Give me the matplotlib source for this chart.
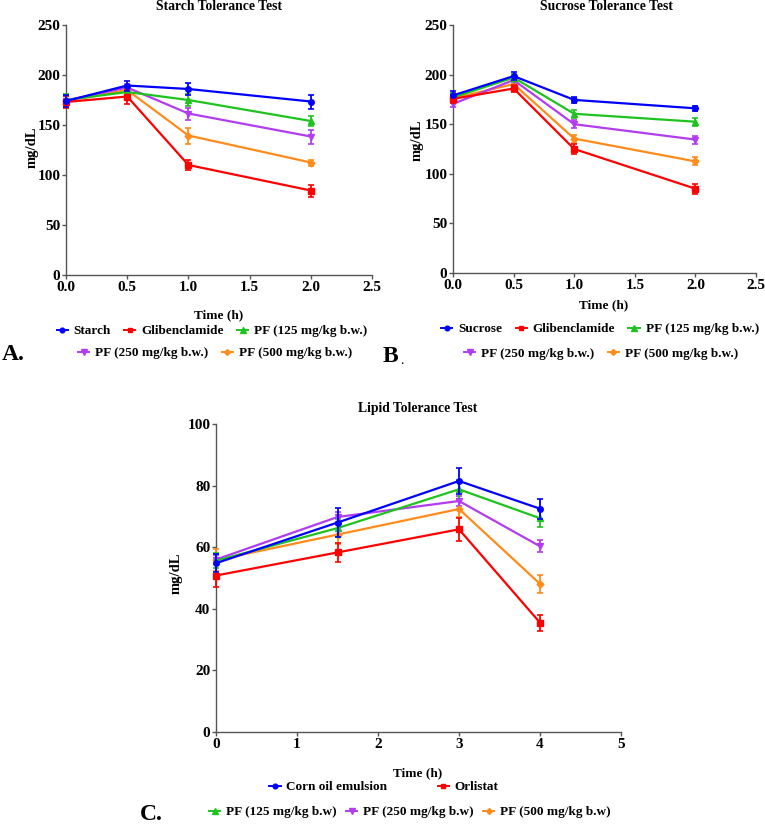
import matplotlib
matplotlib.use("Agg")
import matplotlib.pyplot as plt
from matplotlib.lines import Line2D

plt.rcParams['font.family'] = ['Liberation Serif', 'DejaVu Serif']
plt.rcParams['font.weight'] = 'bold'

# ---------------- data ----------------
time_A = [0, 0.5, 1.0, 2.0]
labels_A = ["Starch", "Glibenclamide", "PF (125 mg/kg b.w.)", "PF (250 mg/kg b.w.)", "PF (500 mg/kg b.w.)"]
starch = [174, 189.5, 186, 173.5]
starch_err = [6, 5, 6, 7]
glib_A = [173, 178.5, 110, 84.5]
glib_A_err = [6, 7, 5, 6]
pf125_A = [175, 183, 175, 154]
pf125_A_err = [6, 4, 6, 5]
pf250_A = [174.5, 187.5, 161.5, 138.5]
pf250_A_err = [5, 4, 6, 7]
pf500_A = [174, 185, 139.5, 112.5]
pf500_A_err = [5, 4, 8, 3]

time_B = [0, 0.5, 1.0, 2.0]
labels_B = ["Sucrose", "Glibenclamide", "PF (125 mg/kg b.w.)", "PF (250 mg/kg b.w.)", "PF (500 mg/kg b.w.)"]
sucrose = [179, 198.5, 174.5, 166]
sucrose_err = [4, 4, 3, 2.5]
glib_B = [175.5, 186, 125, 85]
glib_B_err = [4, 4, 5, 5]
pf125_B = [177, 197, 160.5, 152.5]
pf125_B_err = [4, 4, 4, 4]
pf250_B = [170.5, 194.5, 150, 134.5]
pf250_B_err = [3, 4, 4, 4]
pf500_B = [176, 190.5, 135.5, 112.5]
pf500_B_err = [3, 3, 4, 4]

time_C = [0, 1.5, 3, 4]
labels_C = ["Corn oil emulsion", "Orlistat", "PF (125 mg/kg b.w)", "PF (250 mg/kg b.w)", "PF (500 mg/kg b.w)"]
corn = [54.8, 68, 81.5, 72.5]
corn_err = [3, 4.7, 4.3, 3.3]
orl = [50.8, 58.3, 65.8, 35.5]
orl_err = [3.8, 3, 3.7, 2.6]
pf125_C = [55.6, 66.2, 78.8, 69.4]
pf125_C_err = [2.5, 3, 3, 3]
pf250_C = [56, 69.8, 75, 60.3]
pf250_C_err = [1.5, 1.5, 1.5, 2]
pf500_C = [55.8, 64.1, 72.4, 48.1]
pf500_C_err = [3.5, 3, 2.5, 3]

xticks_AB = [0.0, 0.5, 1.0, 1.5, 2.0, 2.5]
yticks_AB = [0, 50, 100, 150, 200, 250]
xticks_C = [0, 1, 2, 3, 4, 5]
yticks_C = [0, 20, 40, 60, 80, 100]

colors = ["#0000ff", "#ff0000", "#1ec31e", "#b23cf0", "#ff8c1a"]
markers = ["o", "s", "^", "v", "D"]
msizes = [4, 4, 4.5, 4.5, 3.5]

W, H = 765, 824
fig = plt.figure(figsize=(W / 100, H / 100), dpi=100)


def ax_px(l, t, r, b):
    return fig.add_axes([l / W, 1 - b / H, (r - l) / W, (b - t) / H])


def style(ax, xt, yt, xfmt):
    for s in ["top", "right"]:
        ax.spines[s].set_visible(False)
    for s in ["left", "bottom"]:
        ax.spines[s].set_color("#555555")
        ax.spines[s].set_linewidth(1.0)
    ax.set_xticks(xt)
    ax.set_yticks(yt)
    ax.set_xticklabels([xfmt.format(v) for v in xt])
    ax.set_yticklabels([str(v) for v in yt])
    ax.set_xlim(xt[0], xt[-1])
    ax.set_ylim(yt[0], yt[-1])
    ax.tick_params(direction="out", length=3, width=1, color="#555555",
                   labelsize=11, pad=1)
    for lab in ax.get_xticklabels() + ax.get_yticklabels():
        lab.set_fontweight("bold")


def draw(ax, t, series, errs):
    for i, (y, e) in enumerate(zip(series, errs)):
        ax.errorbar(t, y, yerr=e, color=colors[i], marker=markers[i], ms=msizes[i],
                    lw=1.6, elinewidth=1.3, capsize=2.2, capthick=1.2, clip_on=False,
                    zorder=3 + (4 - i) * 0.1)


def handles(idx):
    return [Line2D([0], [0], color=colors[i], marker=markers[i], ms=msizes[i] * 0.85, lw=1.4)
            for i in idx]


def legend_row(idx, labels, cx, cy, colsp=1.0):
    leg = fig.legend(handles(idx), [labels[i] for i in idx], loc="center",
                     bbox_to_anchor=(cx / W, 1 - cy / H), ncol=len(idx), frameon=False,
                     prop={"family": "Liberation Serif", "weight": "bold", "size": 9.5},
                     handlelength=0.85, handletextpad=0.45, columnspacing=colsp,
                     borderpad=0, borderaxespad=0)
    return leg


# ---------------- Panel A ----------------
axA = ax_px(66, 25, 372, 275)
draw(axA, time_A, [starch, glib_A, pf125_A, pf250_A, pf500_A],
     [starch_err, glib_A_err, pf125_A_err, pf250_A_err, pf500_A_err])
style(axA, xticks_AB, yticks_AB, "{:.1f}")
fig.text(219 / W, 1 - 7 / H, "Starch Tolerance Test", ha="center", va="center",
         fontsize=9.8, fontweight="bold")
fig.text(219 / W, 1 - 315 / H, "Time (h)", ha="center", va="center", fontsize=9.5, fontweight="bold")
fig.text(32 / W, 1 - 147 / H, "mg/dL", ha="center", va="center", rotation=90,
         fontsize=10.5, fontweight="bold")
legend_row([0, 1, 2], labels_A, 212, 331)
legend_row([3, 4], labels_A, 215, 353)
fig.text(2 / W, 1 - 355 / H, "A.", ha="left", va="center", fontsize=17, fontweight="bold")

# ---------------- Panel B ----------------
axB = ax_px(453, 25, 756, 273)
draw(axB, time_B, [sucrose, glib_B, pf125_B, pf250_B, pf500_B],
     [sucrose_err, glib_B_err, pf125_B_err, pf250_B_err, pf500_B_err])
style(axB, xticks_AB, yticks_AB, "{:.1f}")
fig.text(606 / W, 1 - 6 / H, "Sucrose Tolerance Test", ha="center", va="center",
         fontsize=9.8, fontweight="bold")
fig.text(604 / W, 1 - 305 / H, "Time (h)", ha="center", va="center", fontsize=9.5, fontweight="bold")
fig.text(417 / W, 1 - 140 / H, "mg/dL", ha="center", va="center", rotation=90,
         fontsize=10.5, fontweight="bold")
legend_row([0, 1, 2], labels_B, 600, 329)
legend_row([3, 4], labels_B, 601, 354)
fig.text(383 / W, 1 - 357 / H, "B", ha="left", va="center", fontsize=17, fontweight="bold")
fig.text(400 / W, 1 - 360 / H, ".", ha="left", va="center", fontsize=10, fontweight="normal")

# ---------------- Panel C ----------------
axC = ax_px(216, 424, 621, 732)
draw(axC, time_C, [corn, orl, pf125_C, pf250_C, pf500_C],
     [corn_err, orl_err, pf125_C_err, pf250_C_err, pf500_C_err])
style(axC, xticks_C, yticks_C, "{:d}")
fig.text(418 / W, 1 - 409 / H, "Lipid Tolerance Test", ha="center", va="center",
         fontsize=9.8, fontweight="bold")
fig.text(418 / W, 1 - 773 / H, "Time (h)", ha="center", va="center", fontsize=9.5, fontweight="bold")
fig.text(176 / W, 1 - 573 / H, "mg/dL", ha="center", va="center", rotation=90,
         fontsize=10.5, fontweight="bold")
legend_row([0, 1], labels_C, 384, 787, colsp=3.8)
legend_row([2, 3, 4], labels_C, 410, 812, colsp=0.7)
fig.text(140 / W, 1 - 815 / H, "C.", ha="left", va="center", fontsize=17, fontweight="bold")

fig.savefig("out.png", dpi=100)
